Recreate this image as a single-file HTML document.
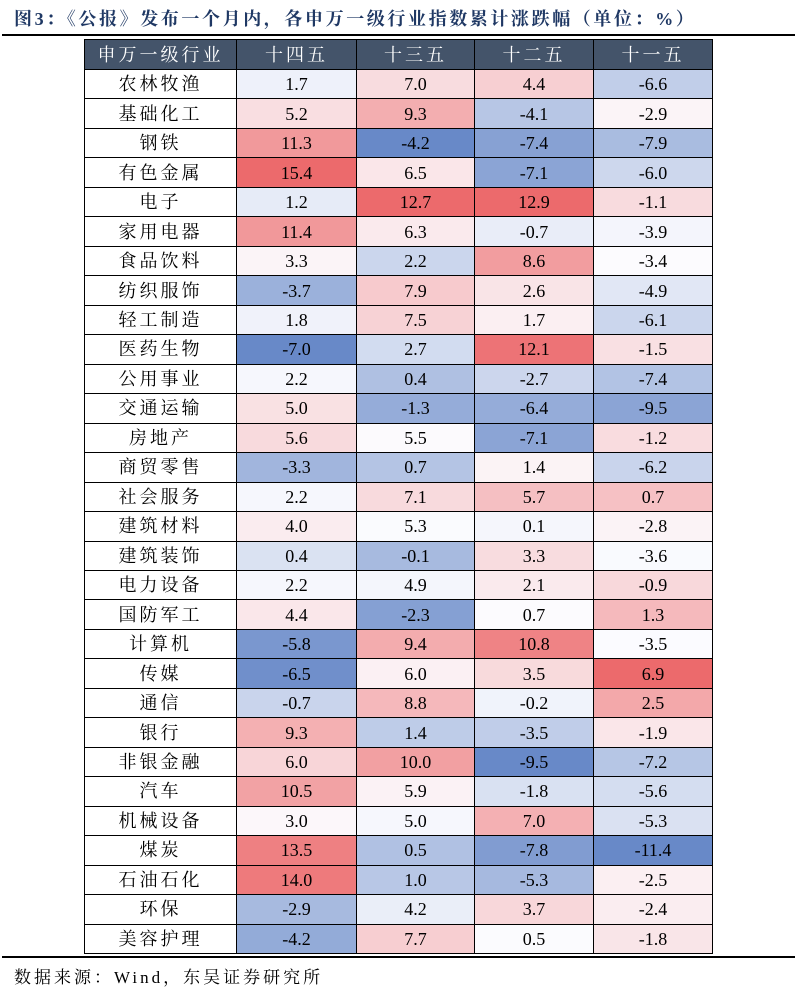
<!DOCTYPE html>
<html><head><meta charset="utf-8">
<style>
body{margin:0;width:802px;height:989px;background:#fff;position:relative;overflow:hidden;font-family:"Liberation Serif","Noto Serif CJK SC",serif;}
#title{position:absolute;left:14px;top:5px;font-size:18px;font-weight:bold;color:#1F3864;letter-spacing:2.6px;white-space:nowrap;font-family:"Liberation Serif","Noto Serif CJK SC",serif;}
#l1{position:absolute;left:2px;top:34px;width:793px;height:2px;background:#000;}
#l2{position:absolute;left:2px;top:956px;width:793px;height:2px;background:#000;}
#src{position:absolute;left:14px;top:963px;font-size:17px;color:#000;white-space:nowrap;letter-spacing:3px;}
table{position:absolute;left:84px;top:39px;border-collapse:collapse;table-layout:fixed;width:628px;}
td,th{border:1.3px solid #000;text-align:center;padding:0;font-size:18px;font-weight:normal;line-height:1;}
th{background:#44546A;color:#fff;height:29px;letter-spacing:3px;}
td{height:28.47px;}
td.n{letter-spacing:3px;}
</style></head><body>
<div id="title">图3：《公报》发布一个月内，各申万一级行业指数累计涨跌幅（单位：%）</div>
<div id="l1"></div>
<table id="t">
<colgroup><col style="width:152px"><col style="width:120px"><col style="width:118px"><col style="width:119px"><col style="width:119px"></colgroup>
<tr><th>申万一级行业</th><th>十四五</th><th>十三五</th><th>十二五</th><th>十一五</th></tr>
</table>
<div id="l2"></div>
<div id="src">数据来源：Wind，东吴证券研究所</div>
<script>
var d=[["农林牧渔",1.7,7.0,4.4,-6.6],["基础化工",5.2,9.3,-4.1,-2.9],["钢铁",11.3,-4.2,-7.4,-7.9],["有色金属",15.4,6.5,-7.1,-6.0],["电子",1.2,12.7,12.9,-1.1],["家用电器",11.4,6.3,-0.7,-3.9],["食品饮料",3.3,2.2,8.6,-3.4],["纺织服饰",-3.7,7.9,2.6,-4.9],["轻工制造",1.8,7.5,1.7,-6.1],["医药生物",-7.0,2.7,12.1,-1.5],["公用事业",2.2,0.4,-2.7,-7.4],["交通运输",5.0,-1.3,-6.4,-9.5],["房地产",5.6,5.5,-7.1,-1.2],["商贸零售",-3.3,0.7,1.4,-6.2],["社会服务",2.2,7.1,5.7,0.7],["建筑材料",4.0,5.3,0.1,-2.8],["建筑装饰",0.4,-0.1,3.3,-3.6],["电力设备",2.2,4.9,2.1,-0.9],["国防军工",4.4,-2.3,0.7,1.3],["计算机",-5.8,9.4,10.8,-3.5],["传媒",-6.5,6.0,3.5,6.9],["通信",-0.7,8.8,-0.2,2.5],["银行",9.3,1.4,-3.5,-1.9],["非银金融",6.0,10.0,-9.5,-7.2],["汽车",10.5,5.9,-1.8,-5.6],["机械设备",3.0,5.0,7.0,-5.3],["煤炭",13.5,0.5,-7.8,-11.4],["石油石化",14.0,1.0,-5.3,-2.5],["环保",-2.9,4.2,3.7,-2.4],["美容护理",-4.2,7.7,0.5,-1.8]];
var R=[236,106,108],W=[252,252,255],B=[104,137,200];
function mix(a,b,t){return "rgb("+a.map(function(v,i){return Math.round(v+(b[i]-v)*t)}).join(",")+")";}
var sc=[];
for(var c=1;c<5;c++){var v=d.map(function(r){return r[c]}).sort(function(a,b){return a-b});var n=v.length,p=(n-1)*0.5,lo=Math.floor(p);var med=v[lo]+(v[lo+1]-v[lo])*(p-lo);sc.push([v[0],med,v[n-1]]);}
var t=document.getElementById("t"),h="";
d.forEach(function(r){h+="<tr><td class='n'>"+r[0]+"</td>";for(var c=1;c<5;c++){var s=sc[c-1],x=r[c],col;if(x>=s[1])col=mix(W,R,(x-s[1])/(s[2]-s[1]));else col=mix(W,B,(s[1]-x)/(s[1]-s[0]));h+="<td style='background:"+col+"'>"+x.toFixed(1)+"</td>";}h+="</tr>";});
t.insertAdjacentHTML("beforeend",h);
</script>
</body></html>
